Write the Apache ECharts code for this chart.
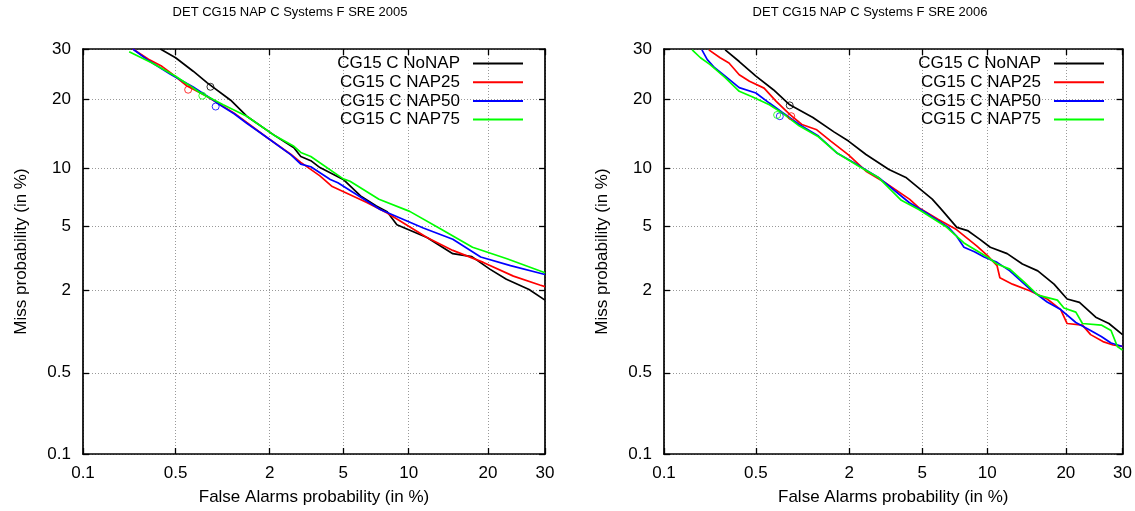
<!DOCTYPE html>
<html><head><meta charset="utf-8">
<script src="https://cdn.jsdelivr.net/npm/echarts@6/dist/echarts.min.js"></script>
<style>html,body{margin:0;padding:0;background:#fff}#c{width:1135px;height:511px}</style>
</head><body><div id="c"></div>
<script>
// ---------- data (percent values, [False Alarm %, Miss %]) ----------
const tickValues = [0.1, 0.5, 2, 5, 10, 20, 30];
const tickLabels = ['0.1', '0.5', '2', '5', '10', '20', '30'];
const seriesNames = ['CG15 C NoNAP', 'CG15 C NAP25', 'CG15 C NAP50', 'CG15 C NAP75'];
const chartTitles = ['DET CG15 NAP C Systems F SRE 2005', 'DET CG15 NAP C Systems F SRE 2006'];
const xTitle = 'False Alarms probability (in %)';
const yTitle = 'Miss probability (in %)';

const sre05_NoNAP = [[0.39,30],[0.5,28.1],[0.66,25.3],[0.82,23],[1.16,19.8],[1.46,17.1],[2.1,14.3],[2.75,12.5],[3.0,11.4],[3.4,10.9],[3.8,10.1],[5,8.84],[6.07,7.28],[7.2,6.44],[8.06,6.0],[8.9,5.07],[11.9,4.28],[15,3.43],[17.6,3.29],[20.3,2.75],[23,2.37],[27,2.03],[30,1.72]];
const sre05_NAP25 = [[0.245,30],[0.32,27.8],[0.4,26.3],[0.46,25.0],[0.6,22.4],[0.8,20.6],[1.0,19.0],[1.22,17.6],[1.46,16.1],[1.93,13.9],[2.65,11.65],[3.0,10.7],[3.8,9.2],[4.4,8.14],[6.5,6.72],[8.06,5.9],[11.9,4.28],[15,3.59],[19.3,3.03],[24.2,2.48],[29,2.17],[30,2.12]];
const sre05_NAP50 = [[0.245,30],[0.32,27.5],[0.46,24.7],[0.66,22.2],[0.9,19.8],[1.0,18.9],[1.22,17.5],[1.46,16.0],[1.93,13.9],[2.65,11.6],[3.0,10.5],[3.4,10.2],[4.3,8.84],[4.7,8.5],[7.5,6.17],[11.5,4.86],[15,4.18],[18.9,3.27],[23.7,2.89],[30,2.54]];
const sre05_NAP75 = [[0.23,29.4],[0.34,27],[0.5,24.3],[0.74,21.1],[1.04,19],[1.46,17.1],[2.1,14.3],[2.75,12.7],[3.0,11.9],[3.4,11.4],[5,8.9],[5.4,8.66],[7.4,7],[10.1,6.02],[13.6,4.76],[17.7,3.75],[23.1,3.19],[30,2.61]];

const sre06_NoNAP = [[0.3,29.8],[0.38,27.3],[0.5,24.3],[0.66,21.7],[0.85,19],[1.2,16.9],[1.62,14.7],[1.98,13.4],[2.5,11.65],[3.35,9.9],[4.15,9.0],[5.6,7],[6.2,6.17],[7.33,4.9],[8.2,4.7],[9.3,4.18],[10.3,3.75],[12.1,3.43],[13.9,2.96],[15.9,2.68],[18.2,2.2],[20.2,1.75],[22.2,1.66],[25,1.31],[27.4,1.18],[30,0.98]];
const sre06_NAP25 = [[0.226,29.8],[0.275,28.1],[0.32,27],[0.38,24.6],[0.45,23.3],[0.57,22],[0.69,19.6],[0.85,17.4],[1.02,15.8],[1.27,15],[1.55,13.4],[1.98,11.6],[2.5,9.7],[3.2,8.5],[4.3,7.0],[4.8,6.3],[6,5.43],[7.3,4.76],[9,3.82],[10,3.35],[11,2.89],[11.3,2.42],[12.7,2.2],[14.9,1.98],[17.2,1.75],[19.2,1.48],[20.2,1.18],[22.7,1.15],[24.1,0.98],[26.3,0.87],[28.2,0.82],[30,0.8]];
const sre06_NAP50 = [[0.2,29.8],[0.22,27.7],[0.25,26],[0.3,24.3],[0.38,22.1],[0.5,21.1],[0.62,19.3],[0.76,17.7],[0.98,15.8],[1.3,14.1],[1.7,11.8],[2.3,10.27],[2.95,9.02],[4.3,6.7],[5.4,5.78],[6.7,4.9],[7.3,4.37],[7.9,3.75],[8.8,3.52],[9.7,3.27],[11,3.03],[12.4,2.68],[14.9,2.03],[17.2,1.67],[19.2,1.48],[21.6,1.2],[24.1,1.05],[26,0.95],[27.8,0.85],[30,0.8]];
const sre06_NAP75 = [[0.168,29.8],[0.195,28.1],[0.23,26.7],[0.3,24],[0.38,21.4],[0.47,20.4],[0.62,19],[0.76,17.6],[0.98,15.6],[1.3,14],[1.7,11.8],[2.3,10.2],[2.95,9.0],[3.9,6.9],[4.8,6.17],[6.5,4.96],[7.9,3.98],[10,3.27],[11,2.96],[12.4,2.75],[14.1,2.28],[15.9,1.86],[18.7,1.72],[19.7,1.52],[21.6,1.42],[22.7,1.18],[26,1.15],[27.8,1.05],[29,0.8],[30,0.75]];

const circles05 = [[0.86,22.25],[0.61,21.7],[0.93,18.7],[0.76,20.6]];
const circles06 = [[0.85,18.9],[0.87,17.1],[0.73,17.1],[0.7,17.3]];

const seriesColors = ['#000000', '#ff0000', '#0000ff', '#00ff00'];

// ---------- probit (normal deviate) transform ----------
function probit(pct) {
  const p = pct / 100;
  const a = [-3.969683028665376e+01, 2.209460984245205e+02, -2.759285104469687e+02, 1.383577518672690e+02, -3.066479806614716e+01, 2.506628277459239e+00];
  const b = [-5.447609879822406e+01, 1.615858368580409e+02, -1.556989798598866e+02, 6.680131188771972e+01, -1.328068155288572e+01];
  const c = [-7.784894002430293e-03, -3.223964580411365e-01, -2.400758277161838e+00, -2.549732539343734e+00, 4.374664141464968e+00, 2.938163982698783e+00];
  const d = [7.784695709041462e-03, 3.224671290700398e-01, 2.445134137142996e+00, 3.754408661907416e+00];
  const pl = 0.02425;
  let q, r;
  if (p < pl) {
    q = Math.sqrt(-2 * Math.log(p));
    return (((((c[0]*q+c[1])*q+c[2])*q+c[3])*q+c[4])*q+c[5]) / ((((d[0]*q+d[1])*q+d[2])*q+d[3])*q+1);
  } else if (p <= 1 - pl) {
    q = p - 0.5; r = q * q;
    return (((((a[0]*r+a[1])*r+a[2])*r+a[3])*r+a[4])*r+a[5])*q / (((((b[0]*r+b[1])*r+b[2])*r+b[3])*r+b[4])*r+1);
  } else {
    q = Math.sqrt(-2 * Math.log(1 - p));
    return -(((((c[0]*q+c[1])*q+c[2])*q+c[3])*q+c[4])*q+c[5]) / ((((d[0]*q+d[1])*q+d[2])*q+d[3])*q+1);
  }
}
const tp = tickValues.map(probit);
const lo = tp[0], hi = tp[tp.length - 1];
function fmt(v) {
  for (let i = 0; i < tp.length; i++) if (Math.abs(tp[i] - v) < 1e-6) return tickLabels[i];
  return '';
}

const FONT = 'Liberation Sans, Arial, Helvetica, sans-serif';
const FS = 17;
const panels = [
  { left: 83, title: chartTitles[0], titleX: 290, legendRight: 612, data: [sre05_NoNAP, sre05_NAP25, sre05_NAP50, sre05_NAP75], circles: circles05 },
  { left: 664, title: chartTitles[1], titleX: 870, legendRight: 31, data: [sre06_NoNAP, sre06_NAP25, sre06_NAP50, sre06_NAP75], circles: circles06 }
];

const option = { animation: false, backgroundColor: '#fff', title: [], grid: [], xAxis: [], yAxis: [], series: [], legend: [] };
const lineCol = { color: '#000', width: 1.7 };
const tickStyle = { show: true, inside: true, length: 6, customValues: tp, lineStyle: { color: '#000', width: 1.3 } };

panels.forEach((pn, g) => {
  option.title.push({ text: pn.title, left: pn.titleX, top: 6, textAlign: 'center', padding: 0,
    textStyle: { fontSize: 13, fontWeight: 'normal', color: '#000', fontFamily: FONT } });
  option.grid.push({ left: pn.left, top: 49, width: 462, height: 406, containLabel: false });
  const base = { gridIndex: g, type: 'value', min: lo, max: hi };
  option.xAxis.push(Object.assign({}, base, {
    position: 'bottom',
    axisLine: { show: true, onZero: false, lineStyle: lineCol },
    axisTick: tickStyle,
    axisLabel: { customValues: tp, formatter: fmt, color: '#000', fontSize: FS, fontFamily: FONT, margin: 11, showMinLabel: true, showMaxLabel: true },
    splitLine: { show: true, lineStyle: { color: '#999', type: [1, 2], width: 1 } },
    name: xTitle, nameLocation: 'middle', nameGap: 35,
    nameTextStyle: { fontSize: FS, color: '#000', fontFamily: FONT }
  }));
  option.xAxis.push(Object.assign({}, base, {
    position: 'top',
    axisLine: { show: true, onZero: false, lineStyle: lineCol },
    axisTick: tickStyle,
    axisLabel: { show: false, customValues: tp },
    splitLine: { show: false }
  }));
  option.yAxis.push(Object.assign({}, base, {
    position: 'left',
    axisLine: { show: true, onZero: false, lineStyle: lineCol },
    axisTick: tickStyle,
    axisLabel: { customValues: tp, formatter: fmt, color: '#000', fontSize: FS, fontFamily: FONT, margin: 12, showMinLabel: true, showMaxLabel: true },
    splitLine: { show: true, lineStyle: { color: '#999', type: [1, 2], width: 1 } },
    name: yTitle, nameLocation: 'middle', nameGap: 53,
    nameTextStyle: { fontSize: FS, color: '#000', fontFamily: FONT }
  }));
  option.yAxis.push(Object.assign({}, base, {
    position: 'right',
    axisLine: { show: true, onZero: false, lineStyle: lineCol },
    axisTick: tickStyle,
    axisLabel: { show: false, customValues: tp },
    splitLine: { show: false }
  }));
  pn.data.forEach((arr, i) => {
    option.series.push({
      name: seriesNames[i], type: 'line', xAxisIndex: g * 2, yAxisIndex: g * 2,
      data: arr.map(([x, y]) => [probit(x), probit(y)]),
      showSymbol: false, symbol: 'none', clip: true, z: 5 + i,
      lineStyle: { color: seriesColors[i], width: 1.7 }, itemStyle: { color: seriesColors[i] },
      emphasis: { disabled: true }
    });
    option.series.push({
      name: seriesNames[i] + ' point', type: 'scatter', xAxisIndex: g * 2, yAxisIndex: g * 2,
      data: [[probit(pn.circles[i][0]), probit(pn.circles[i][1])]],
      symbol: 'circle', symbolSize: 7, z: 10,
      itemStyle: { color: 'rgba(0,0,0,0)', borderColor: seriesColors[i], borderWidth: 1 },
      emphasis: { disabled: true }
    });
    option.legend.push({
      data: [seriesNames[i]], right: pn.legendRight, top: 64 + 18.7 * i - 9, align: 'right',
      orient: 'horizontal', padding: 0, itemWidth: 50, itemHeight: 2, icon: 'rect', selectedMode: false,
      textStyle: { fontSize: FS, color: '#000', fontFamily: FONT, padding: [0, 8, 0, 0] }
    });
  });
});

const chart = echarts.init(document.getElementById('c'), null, { renderer: 'canvas' });
chart.setOption(option);
</script></body></html>
